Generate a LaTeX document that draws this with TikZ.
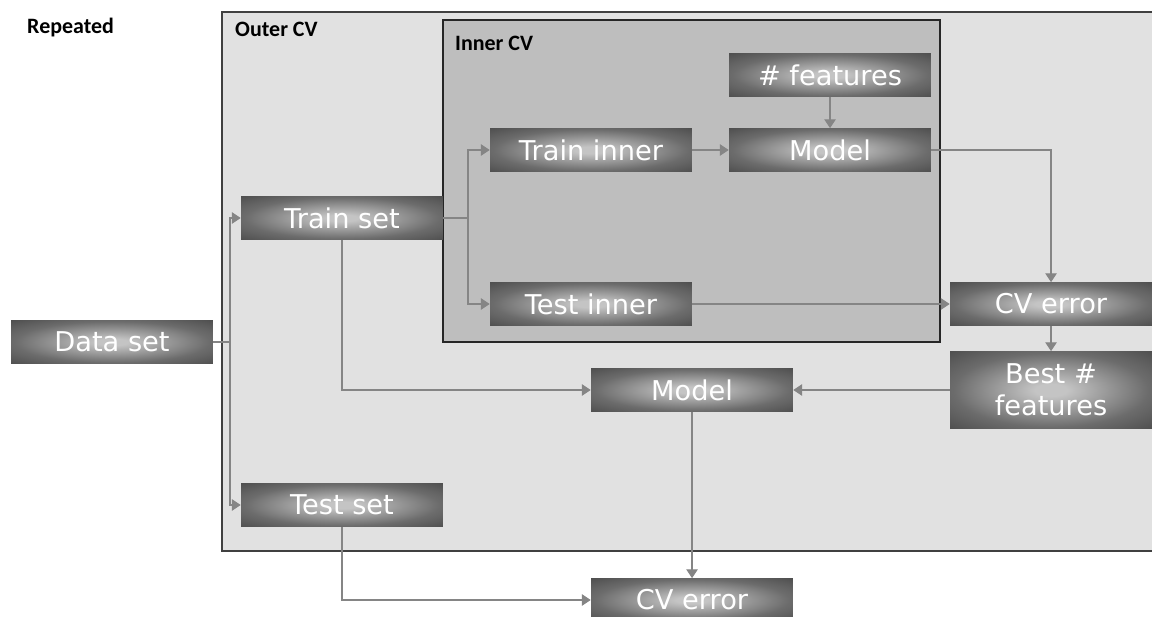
\documentclass[tikz,border=0pt]{standalone}
\usepackage{fontspec}
\setmainfont{Carlito}
\newfontfamily\boxfont{DejaVu Sans}
\usepackage{tikz}
\usetikzlibrary{arrows.meta,backgrounds}
\definecolor{boxdark}{HTML}{3A3A3A}
\definecolor{boxmid}{HTML}{6C6C6C}
\definecolor{boxlight}{HTML}{C4C4C4}
\definecolor{outerfill}{HTML}{E1E1E1}
\definecolor{innerfill}{HTML}{BEBEBE}
\definecolor{linkgray}{HTML}{858585}
\pgfdeclareradialshading{boxglow}{\pgfpoint{0bp}{0bp}}{color(0bp)=(boxlight); color(4bp)=(boxlight); color(24bp)=(boxmid); color(44bp)=(boxdark); color(70bp)=(boxdark)}
\tikzset{
  stepbox/.style={ shading=boxglow,
    text=white, font=\boxfont\fontsize{15.5}{18}\selectfont,
    minimum width=4.04cm, minimum height=0.86cm, inner sep=1pt, align=center }
}
\tikzset{
  link/.style={ draw=linkgray, line width=0.6pt }
}
\tikzset{
  arr/.style={ link, -{Triangle[length=5pt,width=6.5pt]} }
}
\tikzset{
  cvtitle/.style={ font=\bfseries\fontsize{12.5}{14}\selectfont, anchor=west }
}

\begin{document}
\begin{tikzpicture}[x=0.02cm, y=-0.02cm]
      \clip (0, 0) rectangle (1152, 617);
      \fill[white] (0, 0) rectangle (1152, 617);
      % frames
      \draw[fill=outerfill, draw=black!75, line width=1pt] (222, 12) rectangle (1170, 551);
      \draw[fill=innerfill, draw=black!85, line width=1pt] (443, 20) rectangle (940, 342);
      \node[cvtitle] (rep) at (21, 28) {Repeated};
      \node[cvtitle] (outer) at (229, 29) {Outer CV};
      \node[cvtitle] (inner) at (449, 43) {Inner CV};
      % boxes
      \node[stepbox] (data) at (112, 342) {Data set};
      \node[stepbox] (train) at (342, 218) {Train set};
      \node[stepbox] (testset) at (342, 505) {Test set};
      \node[stepbox] (trin) at (591, 150) {Train inner};
      \node[stepbox] (tein) at (591, 304) {Test inner};
      \node[stepbox] (nfeat) at (830, 75) {\# features};
      \node[stepbox] (mdlin) at (830, 150) {Model};
      \node[stepbox] (cverr) at (1051, 304) {CV error};
      \node[stepbox, minimum height=1.54cm] (best) at (1051, 390) {Best \#\\features};
      \node[stepbox] (mdl) at (692, 390) {Model};
      \node[stepbox] (cvbot) at (692, 600) {CV error};
      \coordinate (dsplit) at (230, 342);
      \coordinate (tsplit) at (468, 218);
      % links
      \draw[link] (data) -- (dsplit);
      \draw[arr] (dsplit) |- (train);
      \draw[arr] (dsplit) |- (testset);
      \draw[link] (train) -- (tsplit);
      \draw[arr] (tsplit) |- (trin);
      \draw[arr] (tsplit) |- (tein);
      \draw[arr] (trin) -- (mdlin);
      \draw[arr] (nfeat) -- (mdlin);
      \draw[arr] (mdlin) -| (cverr);
      \draw[arr] (tein) -- (cverr);
      \draw[arr] (cverr) -- (best);
      \draw[arr] (best) -- (mdl);
      \draw[arr] (train) |- (mdl);
      \draw[arr] (mdl) -- (cvbot);
      \draw[arr] (testset) |- (cvbot);
    \end{tikzpicture}
\end{document}
